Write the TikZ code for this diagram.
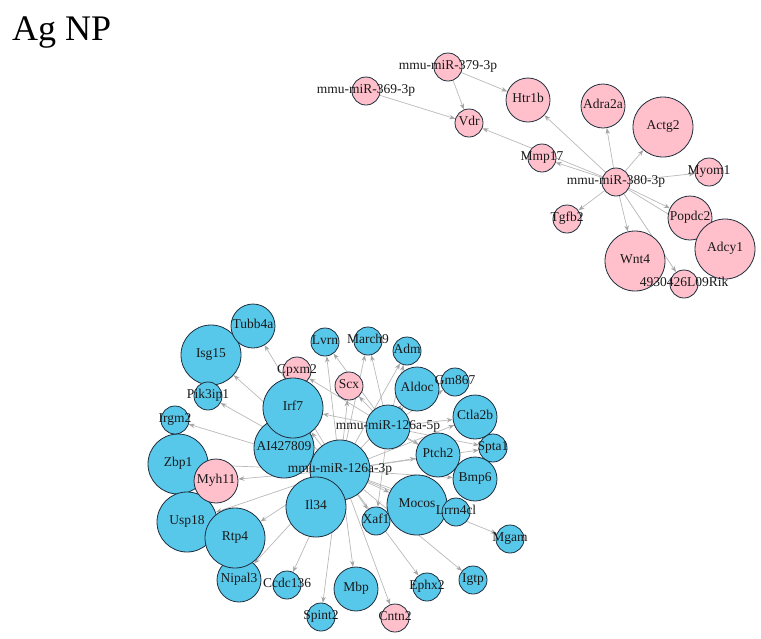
\documentclass[tikz,border=0pt]{standalone}
\usepackage{fontspec}
\setmainfont{Liberation Serif}
\usetikzlibrary{arrows.meta}
\definecolor{vblue}{RGB}{88,200,234}
\definecolor{vpink}{RGB}{255,192,203}
\definecolor{vline}{RGB}{30,45,60}
\definecolor{eline}{RGB}{185,185,185}
\definecolor{ehead}{RGB}{165,165,165}
\pgfdeclarelayer{bg}
\pgfdeclarelayer{fg}
\pgfsetlayers{bg,main,fg}
\tikzset{
  vtx/.style={circle,draw=vline,line width=0.8pt,inner sep=0pt},
  lbl/.style={inner sep=0pt,text=black!90,font=\fontsize{13.5}{15}\selectfont,text height=0.68em,text depth=0.2em},
  edge/.style={draw=eline,line width=0.7pt,-{Stealth[length=6pt,width=4.5pt,color=ehead]}},
  ttl/.style={anchor=base west,inner sep=0pt,font=\fontsize{36}{40}\selectfont}
}
\newcommand\vx[6]{%
  \node[vtx,fill=#5,minimum size=#4pt] (#1) at (#2,#3) {};
  \begin{pgfonlayer}{fg}\node[lbl] (#1-l) at (#2,#3) {#6};\end{pgfonlayer}}
\begin{document}
\begin{tikzpicture}[x=1pt,y=-1pt]
\useasboundingbox (0,0) rectangle (761,638);
\node[ttl] (title) at (12,40) {Ag NP};
% ---- top network
\vx{m379}{448}{67}{28}{vpink}{mmu-miR-379-3p}
\vx{m369}{366}{91}{28}{vpink}{mmu-miR-369-3p}
\vx{Vdr}{469}{123}{28}{vpink}{Vdr}
\vx{Htr1b}{528}{100}{44}{vpink}{Htr1b}
\vx{Adra2a}{603}{106}{44}{vpink}{Adra2a}
\vx{Actg2}{663}{127}{60}{vpink}{Actg2}
\vx{Mmp17}{542}{158}{28}{vpink}{Mmp17}
\vx{m380}{616}{182}{28}{vpink}{mmu-miR-380-3p}
\vx{Myom1}{709}{172}{28}{vpink}{Myom1}
\vx{Tgfb2}{567}{219}{28}{vpink}{Tgfb2}
\vx{Popdc2}{690}{218}{44}{vpink}{Popdc2}
\vx{Adcy1}{725}{249}{60}{vpink}{Adcy1}
\vx{Wnt4}{635}{261}{60}{vpink}{Wnt4}
\vx{Rik}{684}{284}{28}{vpink}{4930426L09Rik}
% ---- bottom network
\vx{Zbp1}{178}{464}{60}{vblue}{Zbp1}
\vx{Usp18}{187}{522}{60}{vblue}{Usp18}
\vx{Myh11}{216}{481}{44}{vpink}{Myh11}
\vx{Nipal3}{239}{580}{44}{vblue}{Nipal3}
\vx{Rtp4}{235}{538}{60}{vblue}{Rtp4}
\vx{AI}{284}{448}{60}{vblue}{AI427809}
\vx{A3}{340}{470}{60}{vblue}{mmu-miR-126a-3p}
\vx{Il34}{316}{507}{60}{vblue}{Il34}
\vx{Cpxm2}{297}{371}{28}{vpink}{Cpxm2}
\vx{Irf7}{293}{408}{60}{vblue}{Irf7}
\vx{Isg15}{211}{355}{60}{vblue}{Isg15}
\vx{Tubb4a}{253}{326}{44}{vblue}{Tubb4a}
\vx{Pik3ip1}{208}{396}{28}{vblue}{Pik3ip1}
\vx{Irgm2}{175}{420}{28}{vblue}{Irgm2}
\vx{Lvrn}{325}{342}{28}{vblue}{Lvrn}
\vx{March9}{368}{341}{28}{vblue}{March9}
\vx{Adm}{407}{351}{28}{vblue}{Adm}
\vx{Scx}{349}{386}{28}{vpink}{Scx}
\vx{Aldoc}{417}{389}{44}{vblue}{Aldoc}
\vx{Gm867}{455}{382}{28}{vblue}{Gm867}
\vx{A5}{388}{427}{44}{vblue}{mmu-miR-126a-5p}
\vx{Ctla2b}{475}{417}{44}{vblue}{Ctla2b}
\vx{Ptch2}{438}{455}{44}{vblue}{Ptch2}
\vx{Spta1}{493}{448}{28}{vblue}{Spta1}
\vx{Bmp6}{475}{479}{44}{vblue}{Bmp6}
\vx{Mocos}{417}{505}{60}{vblue}{Mocos}
\vx{Lrrn4cl}{456}{512}{28}{vblue}{Lrrn4cl}
\vx{Xaf1}{376}{521}{28}{vblue}{Xaf1}
\vx{Mgam}{510}{539}{28}{vblue}{Mgam}
\vx{Ccdc136}{287}{585}{28}{vblue}{Ccdc136}
\vx{Igtp}{473}{580}{28}{vblue}{Igtp}
\vx{Ephx2}{427}{587}{28}{vblue}{Ephx2}
\vx{Mbp}{356}{589}{44}{vblue}{Mbp}
\vx{Spint2}{321}{617}{28}{vblue}{Spint2}
\vx{Cntn2}{395}{618}{28}{vpink}{Cntn2}
% ---- edges
\begin{pgfonlayer}{bg}
\draw[edge] (m379) -- (Htr1b);
\draw[edge] (m379) -- (Vdr);
\draw[edge] (m369) -- (Vdr);
\foreach \t in {Vdr,Htr1b,Adra2a,Actg2,Myom1,Popdc2,Adcy1,Rik,Wnt4,Tgfb2,Mmp17}
  \draw[edge] (m380) -- (\t);
\foreach \t in {Lvrn,March9,Adm,Scx,Cpxm2,Irf7,Gm867,Ctla2b,Spta1,Ptch2,Bmp6,Xaf1,Aldoc}
  \draw[edge] (A5) -- (\t);
\foreach \t in {Tubb4a,Isg15,Pik3ip1,Irgm2,Zbp1,Myh11,Usp18,Rtp4,Nipal3,Ccdc136,Spint2,Mbp,Cntn2,Ephx2,Igtp,Mgam,Lrrn4cl,Mocos,Xaf1,Bmp6,Ptch2,Spta1,Ctla2b,Lvrn,March9,Scx,Adm,Irf7,AI,Il34,Aldoc}
  \draw[edge] (A3) -- (\t);
\end{pgfonlayer}
\end{tikzpicture}
\end{document}
